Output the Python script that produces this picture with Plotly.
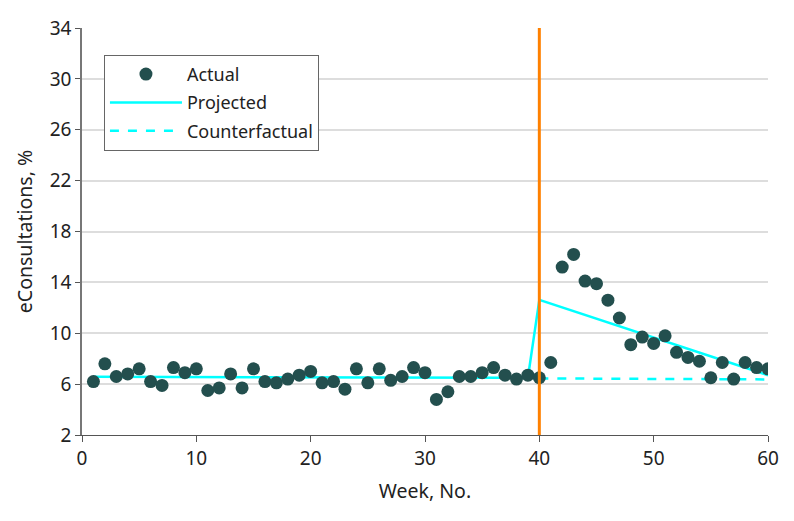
import plotly.graph_objects as go

weeks = list(range(1, 61))
actual = [6.2, 7.6, 6.6, 6.8, 7.2, 6.2, 5.9, 7.3, 6.9, 7.2,
          5.5, 5.7, 6.8, 5.7, 7.2, 6.2, 6.1, 6.4, 6.7, 7.0,
          6.1, 6.2, 5.6, 7.2, 6.1, 7.2, 6.3, 6.6, 7.3, 6.9,
          4.8, 5.4, 6.6, 6.6, 6.9, 7.3, 6.7, 6.4, 6.7, 6.5,
          7.7, 15.2, 16.2, 14.1, 13.9, 12.6, 11.2, 9.1, 9.7, 9.2,
          9.8, 8.5, 8.1, 7.8, 6.5, 7.7, 6.4, 7.7, 7.3, 7.2]

proj_x = [1, 39, 40, 60]
proj_y = [6.58, 6.5, 12.63, 6.7]

cf_x = [40, 60]
cf_y = [6.45, 6.37]

intervention_week = 40

y_ticks = [2, 6, 10, 14, 18, 22, 26, 30, 34]
x_ticks = [0, 10, 20, 30, 40, 50, 60]

FONT = "Noto Sans"

fig = go.Figure()
fig.add_trace(go.Scatter(
    x=proj_x, y=proj_y, mode="lines", name="Projected",
    line=dict(color="#00FFFF", width=2.5), legendgroup="b", legendrank=2,
))
fig.add_trace(go.Scatter(
    x=cf_x, y=cf_y, mode="lines", name="Counterfactual",
    line=dict(color="#00FFFF", width=2.5, dash="dash"), legendgroup="c", legendrank=3,
))
fig.add_trace(go.Scatter(
    x=weeks, y=actual, mode="markers", name="Actual",
    marker=dict(color="#234F4E", size=13), legendgroup="a", legendrank=1,
))

fig.add_vline(x=intervention_week, line=dict(color="#FF8000", width=3))

fig.update_layout(
    width=786, height=513,
    margin=dict(l=74, r=26, t=20, b=86, autoexpand=False),
    paper_bgcolor="white", plot_bgcolor="white",
    font=dict(family=FONT, size=19, color="#222222"),
    showlegend=True,
    legend=dict(
        x=0.032, y=0.934, xanchor="left", yanchor="top",
        bordercolor="#666666", borderwidth=1, bgcolor="white",
        font=dict(size=18), tracegroupgap=2, itemwidth=72,
    ),
    xaxis=dict(
        range=[0, 60], tickvals=x_ticks, showgrid=False, zeroline=False,
        showline=True, linecolor="#555555", linewidth=1,
        ticks="outside", ticklen=6, tickcolor="#555555",
        title=dict(text="Week, No.", standoff=14, font=dict(size=19.5)), automargin=False,
    ),
    yaxis=dict(
        range=[2, 34], tickvals=y_ticks, showgrid=True, gridcolor="#DDDDDD", gridwidth=1.5,
        zeroline=False, showline=True, linecolor="#777777", linewidth=1.5,
        ticks="outside", ticklen=5, tickcolor="#555555",
        title=dict(text="eConsultations, %", standoff=12, font=dict(size=19.5)), automargin=False,
    ),
)

fig.write_html("out.html")
